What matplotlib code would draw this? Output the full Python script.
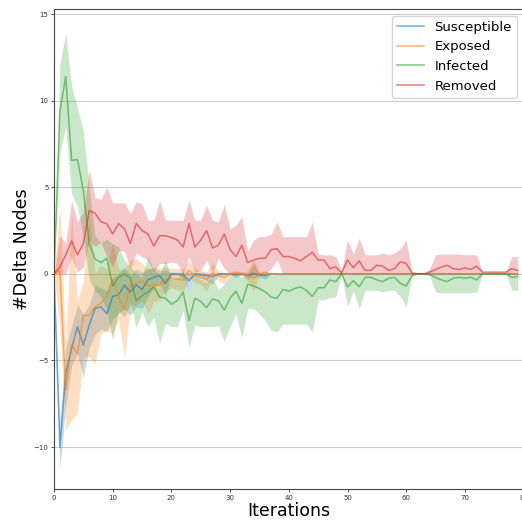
import numpy as np
import matplotlib
matplotlib.use('Agg')
import matplotlib.pyplot as plt

iterations = np.arange(80)

susceptible = [0, -10.0, -5.75, -4.3, -3.05, -4.1, -2.95, -2.0, -1.9, -2.3,
               -1.3, -1.2, -0.65, -1.05, -0.65, -0.9, -0.35, -0.2, -0.1, -0.55,
               0, 0, -0.05, -0.4, 0, -0.05, -0.1, -0.15, 0, 0,
               0, -0.05, 0, -0.1, 0, -0.05, -0.1, 0] + [0] * 42
susceptible_lo = [0, -11.3, -7.6, -5.3, -4.6, -6.0, -4.3, -3.5, -3.2, -3.3,
                  -2.6, -2.3, -2.0, -2.4, -1.9, -2.0, -1.3, -0.8, -0.5, -1.3,
                  -0.1, -0.1, -0.2, -1.0, -0.1, -0.2, -0.4, -0.6, -0.1, -0.05,
                  -0.05, -0.2, -0.05, -0.3, -0.05, -0.2, -0.3, -0.05] + [0] * 42
susceptible_hi = [0, -8.6, -4.3, -3.0, -1.8, -2.3, -1.8, -0.7, -0.8, -1.0,
                  -0.2, 0.0, 0.4, -0.1, 0.3, 0.1, 0.3, 0.3, 0.2, 0.2,
                  0.1, 0.1, 0.1, 0.1, 0.1, 0.1, 0.05, 0.05, 0.05, 0.05,
                  0.05, 0.05, 0.05, 0.05, 0.05, 0.05, 0.05, 0.05] + [0] * 42

exposed = [0, 0.2, -6.7, -4.1, -4.6, -2.4, -2.4, -1.9, -1.7, -1.3,
           -0.35, -1.3, -2.05, -0.7, -0.55, -0.4, -0.7, -0.65, -0.65, -0.3,
           -0.25, -0.3, -0.35, 0.2, -0.1, -0.2, -0.35, 0.05, -0.1, -0.2,
           0, 0.05, 0, -0.1, -0.25, 0, 0.05, 0] + [0] * 42
exposed_lo = [0, -3.0, -9.0, -8.45, -8.05, -4.8, -4.8, -5.2, -3.45, -3.3,
              -3.45, -2.6, -4.9, -1.9, -1.8, -1.5, -2.3, -1.6, -1.5, -1.0,
              -0.8, -0.9, -1.0, -0.2, -0.5, -0.6, -1.0, -0.2, -0.4, -0.6,
              -0.1, -0.1, -0.1, -0.4, -1.0, -0.1, -0.1, 0] + [0] * 42
exposed_hi = [0, 3.9, -4.2, 3.5, -1.5, -0.5, 3.5, 0.0, 0.5, 0.3,
              1.8, 0.3, 0.2, 0.8, 0.9, 0.6, 0.3, 0.4, 0.3, 0.4,
              0.3, 0.3, 0.3, 0.8, 0.3, 0.2, 0.1, 0.6, 0.2, 0.1,
              0.1, 0.2, 0.1, 0.2, 0.8, 0.1, 0.2, 0] + [0] * 42

infected = [0, 9.35, 11.4, 6.55, 6.6, 4.8, 1.75, 0.85, 0.65, 0.9,
            -0.7, -0.2, 0.0, -0.25, -1.55, -1.25, -1.05, -0.75, -1.35, -1.4,
            -1.75, -1.55, -1.05, -2.7, -1.4, -1.6, -1.95, -1.45, -1.55, -2.1,
            -1.4, -1.0, -1.7, -0.6, -0.7, -0.85, -1.05, -1.35, -1.4, -0.9,
            -1.0, -0.85, -0.75, -0.95, -1.3, -0.8, -0.8, -0.35, -0.45, 0.0,
            -0.75, -0.4, -0.75, -0.2, -0.2, -0.35, -0.45, -0.25, -0.2, -0.55,
            -0.7, -0.1, 0, 0, -0.05, -0.2, -0.35, -0.45, -0.25, -0.2,
            -0.25, -0.2, -0.35, 0, 0, 0, 0, 0, -0.2, -0.15]
infected_lo = [0, 7.0, 8.5, 4.6, 3.9, 2.1, -0.3, -1.0, -1.3, -2.1,
               -3.8, -2.1, -2.5, -1.7, -3.1, -2.2, -3.05, -2.5, -4.0, -2.85,
               -3.05, -3.05, -2.1, -4.25, -2.95, -3.05, -3.05, -3.05, -3.0, -3.9,
               -3.05, -2.3, -3.7, -2.0, -2.0, -2.3, -2.7, -3.25, -3.35, -2.9,
               -2.9, -2.9, -2.9, -2.9, -3.35, -1.5, -1.5, -1.35, -1.35, 0,
               -1.9, -0.95, -2.0, -0.95, -0.95, -0.95, -1.05, -0.95, -0.95, -1.3,
               -1.9, -0.1, 0, 0, -0.1, -1.05, -1.1, -1.1, -1.1, -1.1,
               -1.1, -1.1, -1.05, 0, 0, 0, 0, 0, -0.95, -0.95]
infected_hi = [0, 12.1, 13.9, 10.8, 9.6, 8.2, 5.0, 2.2, 1.8, 2.0,
               1.75, 1.55, 0.8, 0.4, 0.0, -0.2, 1.0, 0.2, 0.0, 0.8,
               -0.3, -0.2, 0.2, -1.0, -0.1, -0.3, -0.5, -0.2, -0.9, -0.6,
               -0.1, 0, -0.2, 0, 0.6, 0, -0.1, -0.1, 0, 0] + [0] * 40

removed = [0, 0.4, 1.1, 1.9, 1.1, 1.75, 3.65, 3.5, 3.0, 2.9,
           2.3, 2.9, 2.6, 1.75, 2.9, 2.5, 2.3, 1.6, 2.2, 2.2,
           2.1, 1.95, 1.55, 2.9, 1.55, 1.95, 2.5, 1.5, 1.65, 2.3,
           1.4, 1.0, 1.65, 0.65, 0.8, 0.9, 0.9, 1.4, 1.45, 1.0,
           1.0, 0.9, 0.75, 1.0, 1.25, 0.8, 0.8, 0.3, 0.4, 0.05,
           0.8, 0.35, 0.75, 0.2, 0.2, 0.5, 0.45, 0.2, 0.3, 0.7,
           0.6, 0.05, 0, 0, 0.1, 0.25, 0.4, 0.5, 0.3, 0.25,
           0.35, 0.25, 0.45, 0.1, 0.1, 0.1, 0.1, 0.1, 0.3, 0.2]
removed_lo = [0, 0, 0, 1.0, 0.1, 0.4, 1.9, 1.6, 1.8, 1.0,
              0.4, 1.35, 1.3, 0.3, 1.2, 1.0, 0.8, 0.1, 0.6, 0.6,
              0.7, 0.6, 0.0, 1.0, 0.1, 0.2, 0.8, 0.0, 0.9, 0.3,
              0, 0, 0, 0, 0, 0, 0, 0.3, 0.8, 0] + [0] * 40
removed_hi = [0, 2.2, 1.8, 4.2, 3.0, 3.6, 6.0, 4.4, 4.3, 5.0,
              4.1, 4.1, 4.1, 3.5, 4.15, 4.05, 3.1, 3.1, 4.25, 3.1,
              3.1, 3.1, 3.1, 4.25, 3.1, 3.1, 3.95, 3.1, 3.0, 4.0,
              2.6, 2.8, 3.3, 1.3, 1.95, 2.15, 2.15, 2.3, 3.0, 2.15,
              2.15, 2.15, 2.15, 2.15, 3.0, 1.15, 1.1, 1.1, 1.0, 0.2,
              1.95, 1.15, 2.05, 1.1, 1.1, 1.1, 1.2, 1.1, 1.2, 1.45,
              1.95, 0.1, 0, 0, 0.3, 1.1, 1.15, 1.15, 1.15, 1.15,
              1.1, 1.1, 1.1, 0.1, 0.1, 0.1, 0.1, 0.1, 1.0, 1.0]

labels = ['Susceptible', 'Exposed', 'Infected', 'Removed']
colors = ['tab:blue', 'tab:orange', 'tab:green', 'tab:red']
means = [susceptible, exposed, infected, removed]
lows = [susceptible_lo, exposed_lo, infected_lo, removed_lo]
highs = [susceptible_hi, exposed_hi, infected_hi, removed_hi]

fig = plt.figure(figsize=(5.22, 5.27), dpi=100)
ax = fig.add_axes([54 / 522, 38 / 527, 469.6 / 522, 480 / 527])

for name, col, m, lo, hi in zip(labels, colors, means, lows, highs):
    ax.fill_between(iterations, lo, hi, color=col, alpha=0.25, linewidth=0)
    ax.plot(iterations, m, color=col, alpha=0.6, linewidth=1.1, label=name)

ax.set_xlim(0, 80)
ax.set_ylim(-12.42, 15.29)
ax.set_xticks(range(0, 81, 10))
ax.set_yticks([-10, -5, 0, 5, 10, 15])
ax.tick_params(labelsize=5, length=2, width=0.6, pad=2, colors='#333333')
ax.grid(axis='y', color='#cccccc', linewidth=0.8)
ax.set_axisbelow(True)
for sp in ax.spines.values():
    sp.set_color('#444444')
    sp.set_linewidth(0.8)

ax.set_xlabel('Iterations', fontsize=12.5, labelpad=1)
ax.set_ylabel('#Delta Nodes', fontsize=12.5, labelpad=2)
ax.legend(loc='upper right', fontsize=9.5)

fig.savefig('out.png', dpi=100)
